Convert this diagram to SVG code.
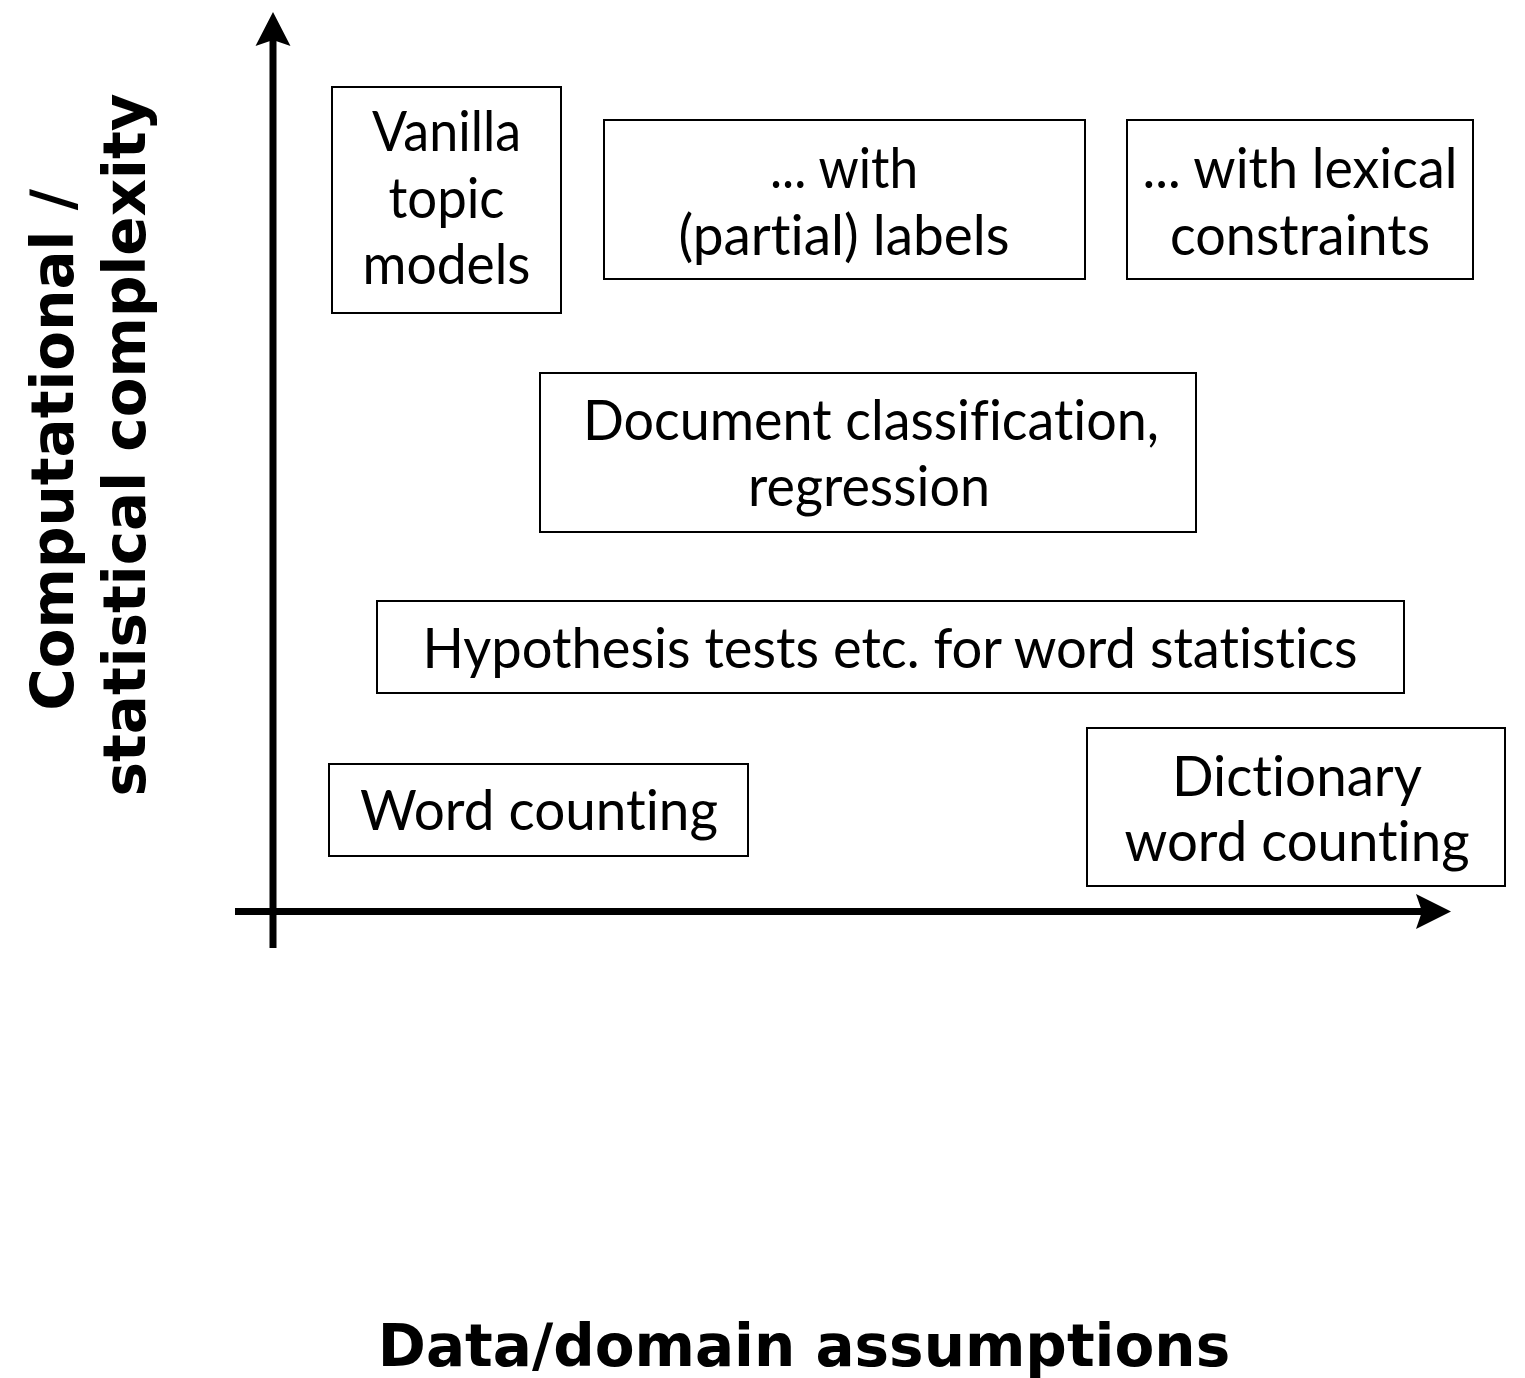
<svg xmlns="http://www.w3.org/2000/svg" width="1525" height="1378" viewBox="0 0 1525 1378">
  <style>
    .box { fill: #ffffff; stroke: #000000; stroke-width: 2; }
    .lbl { font-family: Lato, "Open Sans", "Liberation Sans", sans-serif; font-size: 56px; fill: #000000; text-anchor: middle; font-variant-ligatures: none; }
    .axis-title { font-family: "DejaVu Sans", Verdana, sans-serif; font-weight: bold; font-size: 58px; fill: #000000; text-anchor: middle; }
    .axis { stroke: #000000; stroke-width: 7; fill: none; }
    .head { fill: #000000; stroke: none; }
  </style>
  <rect width="1525" height="1378" fill="#ffffff"/>

  <g id="connectors">
    <line class="axis" x1="273" y1="38" x2="273" y2="948"/>
    <polygon class="head" points="273,12 290.5,46 273,40 255.5,46"/>
    <line class="axis" x1="235" y1="911.5" x2="1424" y2="911.5"/>
    <polygon class="head" points="1451,911.5 1416,894 1422,911.5 1416,929"/>
  </g>

  <g id="node-vanilla">
    <rect class="box" x="332" y="87" width="229" height="226"/>
    <text class="lbl" x="446.5" y="151" textLength="149" lengthAdjust="spacingAndGlyphs">Vanilla</text>
    <text class="lbl" x="446.5" y="218" textLength="116" lengthAdjust="spacingAndGlyphs">topic</text>
    <text class="lbl" x="446.5" y="284" textLength="168" lengthAdjust="spacingAndGlyphs">models</text>
  </g>

  <g id="node-partial-labels">
    <rect class="box" x="604" y="120" width="481" height="159"/>
    <text class="lbl" x="844" y="188" textLength="148" lengthAdjust="spacingAndGlyphs">... with</text>
    <text class="lbl" x="844" y="255" textLength="331" lengthAdjust="spacingAndGlyphs">(partial) labels</text>
  </g>

  <g id="node-lexical">
    <rect class="box" x="1127" y="120" width="346" height="159"/>
    <text class="lbl" x="1300" y="188" textLength="315" lengthAdjust="spacingAndGlyphs">... with lexical</text>
    <text class="lbl" x="1300" y="255" textLength="260" lengthAdjust="spacingAndGlyphs">constraints</text>
  </g>

  <g id="node-doc-classification">
    <rect class="box" x="540" y="373" width="656" height="159"/>
    <text class="lbl" x="871" y="440" textLength="576" lengthAdjust="spacingAndGlyphs">Document classification,</text>
    <text class="lbl" x="869" y="506" textLength="242" lengthAdjust="spacingAndGlyphs">regression</text>
  </g>

  <g id="node-hypothesis">
    <rect class="box" x="377" y="601" width="1027" height="92"/>
    <text class="lbl" x="890" y="668" textLength="935" lengthAdjust="spacingAndGlyphs">Hypothesis tests etc. for word statistics</text>
  </g>

  <g id="node-word-counting">
    <rect class="box" x="329" y="764" width="419" height="92"/>
    <text class="lbl" x="539" y="830" textLength="358" lengthAdjust="spacingAndGlyphs">Word counting</text>
  </g>

  <g id="node-dictionary">
    <rect class="box" x="1087" y="728" width="418" height="158"/>
    <text class="lbl" x="1297" y="796" textLength="250" lengthAdjust="spacingAndGlyphs">Dictionary</text>
    <text class="lbl" x="1297" y="861" textLength="345" lengthAdjust="spacingAndGlyphs">word counting</text>
  </g>

  <g id="y-axis-title">
    <text class="axis-title" transform="translate(73,450) rotate(-90)">Computational /</text>
    <text class="axis-title" transform="translate(145,445) rotate(-90)">statistical complexity</text>
  </g>

  <g id="x-axis-title">
    <text class="axis-title" x="804" y="1366">Data/domain assumptions</text>
  </g>
</svg>
